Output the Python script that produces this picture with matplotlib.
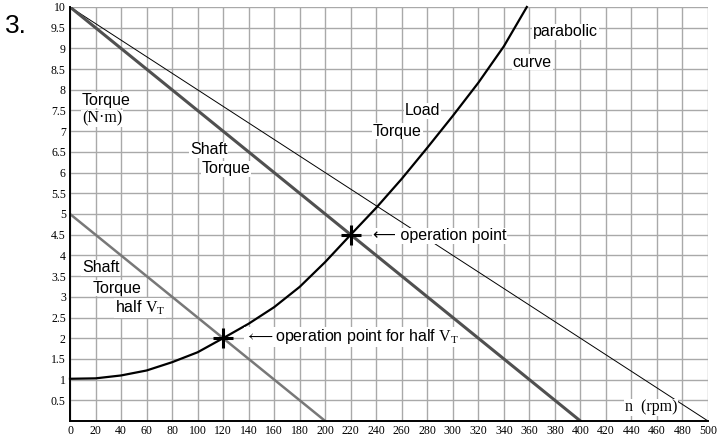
import matplotlib

matplotlib.use('Agg')

import matplotlib.pyplot as plt

plt.rcParams['font.family'] = ['Liberation Sans', 'DejaVu Sans']
plt.rcParams['mathtext.fontset'] = 'custom'
plt.rcParams['mathtext.rm'] = 'Liberation Serif'
plt.rcParams['mathtext.it'] = 'Liberation Serif'

# load torque (parabolic)
n_load = [0, 20, 40, 60, 80, 100, 120, 140, 160, 180, 200, 220, 240, 260, 280, 300, 320, 340, 358]
t_load = [1.02, 1.03, 1.1, 1.22, 1.42, 1.66, 2.0, 2.35, 2.75, 3.24, 3.84, 4.5, 5.15, 5.85, 6.6, 7.37, 8.17, 9.05, 10.0]

# shaft torque lines
n_shaft = [0, 400]
t_shaft = [10, 0]
n_half = [0, 200]
t_half = [5, 0]
n_noload = [0, 500]
t_noload = [10, 0]

# operation points
n_op = [220, 120]
t_op = [4.5, 2.0]

x_ticks = list(range(0, 501, 20))
y_ticks = [0.5 * i for i in range(1, 21)]
y_labels = ['%g' % v for v in y_ticks]

fig = plt.figure(figsize=(7.2, 4.37), dpi=100)
ax = fig.add_axes([70 / 720, 16 / 437, 638 / 720, 414 / 437])

ax.set_xlim(0, 500)
ax.set_ylim(0, 10)
ax.set_xticks(x_ticks)
ax.set_yticks(y_ticks)
ax.set_yticklabels(y_labels)
ax.grid(True, color='#a9a9a9', linewidth=1.0)
ax.set_axisbelow(True)
ax.tick_params(length=0, labelsize=8.5, pad=3)
for lab in ax.get_xticklabels() + ax.get_yticklabels():
    lab.set_family('Liberation Serif')
for s in ['top', 'right']:
    ax.spines[s].set_visible(False)
for s in ['left', 'bottom']:
    ax.spines[s].set_linewidth(1.4)

ax.plot(n_noload, t_noload, color='black', linewidth=0.7, zorder=2)
ax.plot(n_shaft, t_shaft, color='#505050', linewidth=2.2, zorder=2)
ax.plot(n_half, t_half, color='#787878', linewidth=1.8, zorder=2)
ax.plot(n_load, t_load, color='black', linewidth=1.6, zorder=2, clip_on=False)
ax.plot(n_op, t_op, linestyle='none', marker='+', markersize=15, mew=2.2, color='black', zorder=4)

box = dict(facecolor='white', edgecolor='none', pad=0.5)
fs = 11.5


def label(x, y, s, **kw):
    kw.setdefault('family', ['Liberation Sans', 'DejaVu Sans'])
    ax.text(x, y, s, fontsize=kw.pop('size', fs), ha='left', va='center', bbox=box, zorder=3, **kw)


label(9.4, 7.75, 'Torque')
label(9.4, 7.3, '(N·m)', family='Liberation Serif', size=11.5)
label(94, 6.55, 'Shaft')
label(103.4, 6.09, 'Torque')
label(262.5, 7.49, 'Load')
label(237.5, 7.0, 'Torque')
label(362.9, 9.4, 'parabolic')
label(347, 8.67, 'curve')
label(9.4, 3.7, 'Shaft')
label(18, 3.21, 'Torque')
label(35.3, 2.73, r'half $\mathrm{V_T}$')
label(237.5, 4.47, '\u27f5 operation point')
label(137, 2.03, r'$\longleftarrow$operation point for half $\mathrm{V_T}$')
label(435, 0.33, 'n  (rpm)', family='Liberation Serif', size=11.5)

fig.text(5 / 720, 1 - 33 / 437, '3.', fontsize=19, ha='left', va='baseline')

fig.savefig('out.png', dpi=100)
